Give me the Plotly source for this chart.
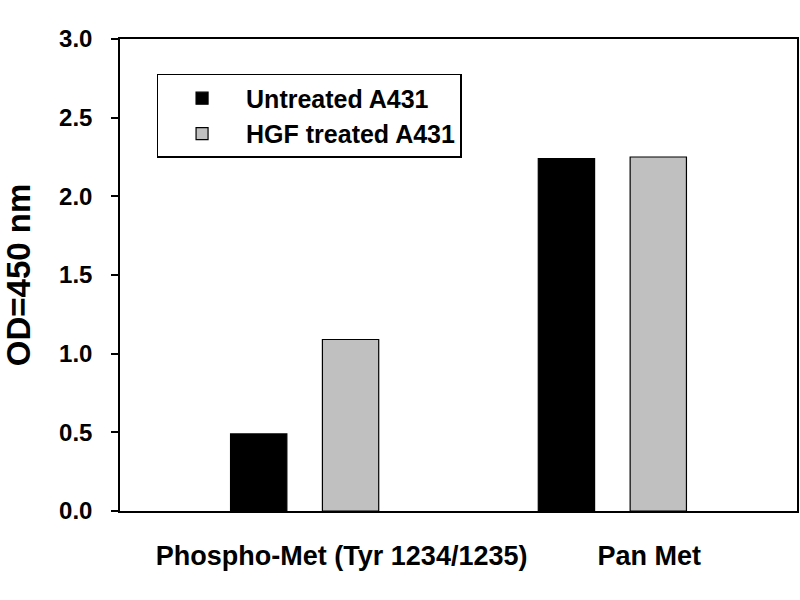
import plotly.graph_objects as go

# data
categories = ['Phospho-Met (Tyr 1234/1235)', 'Pan Met']
untreated = [0.49, 2.24]
hgf_treated = [1.09, 2.25]
y_ticks = [0.0, 0.5, 1.0, 1.5, 2.0, 2.5, 3.0]

font_name = 'Liberation Sans'

fig = go.Figure()
fig.add_trace(go.Bar(
    x=categories, y=untreated, name='Untreated A431',
    marker=dict(color='black', line=dict(color='black', width=1.2)),
))
fig.add_trace(go.Bar(
    x=categories, y=hgf_treated, name='HGF treated A431',
    marker=dict(color='#c0c0c0', line=dict(color='black', width=1.2)),
))

fig.update_layout(
    width=800, height=600,
    paper_bgcolor='white', plot_bgcolor='white',
    margin=dict(l=120, r=3, t=39, b=89, autoexpand=False),
    barmode='group',
    bargap=0.403,
    bargroupgap=0.387,
    font=dict(family=font_name, color='black', weight='bold'),
    showlegend=True,
    legend=dict(
        x=0.054, y=0.926, xanchor='left', yanchor='top',
        bordercolor='black', borderwidth=1.5, bgcolor='white',
        font=dict(size=25, family=font_name, weight='bold'),
        itemwidth=78,
        tracegroupgap=0,
    ),
)

fig.update_xaxes(
    range=[-0.6, 1.6], automargin=False,
    showline=True, linecolor='black', linewidth=1.5, mirror=True,
    ticks='', showgrid=False, zeroline=False,
    tickfont=dict(size=27, family=font_name, weight='bold'),
    ticklabelshift=37,
    ticklabelstandoff=20,
)
fig.update_yaxes(
    range=[0, 3.0], automargin=False,
    tickvals=y_ticks, tickformat='.1f',
    showline=True, linecolor='black', linewidth=1.5, mirror=True,
    ticks='outside', ticklen=7, tickwidth=1.5, tickcolor='black',
    showgrid=False, zeroline=False,
    tickfont=dict(size=24, family=font_name, weight='bold'),
    ticklabelstandoff=14,
    title=dict(text='OD=450 nm', standoff=26,
               font=dict(size=33, family=font_name, weight='bold')),
)

# drop the browser's default page margin so the figure sits at 0,0
fig.write_html('out.html', config={'displayModeBar': False},
               post_script="document.body.style.margin='0';")
